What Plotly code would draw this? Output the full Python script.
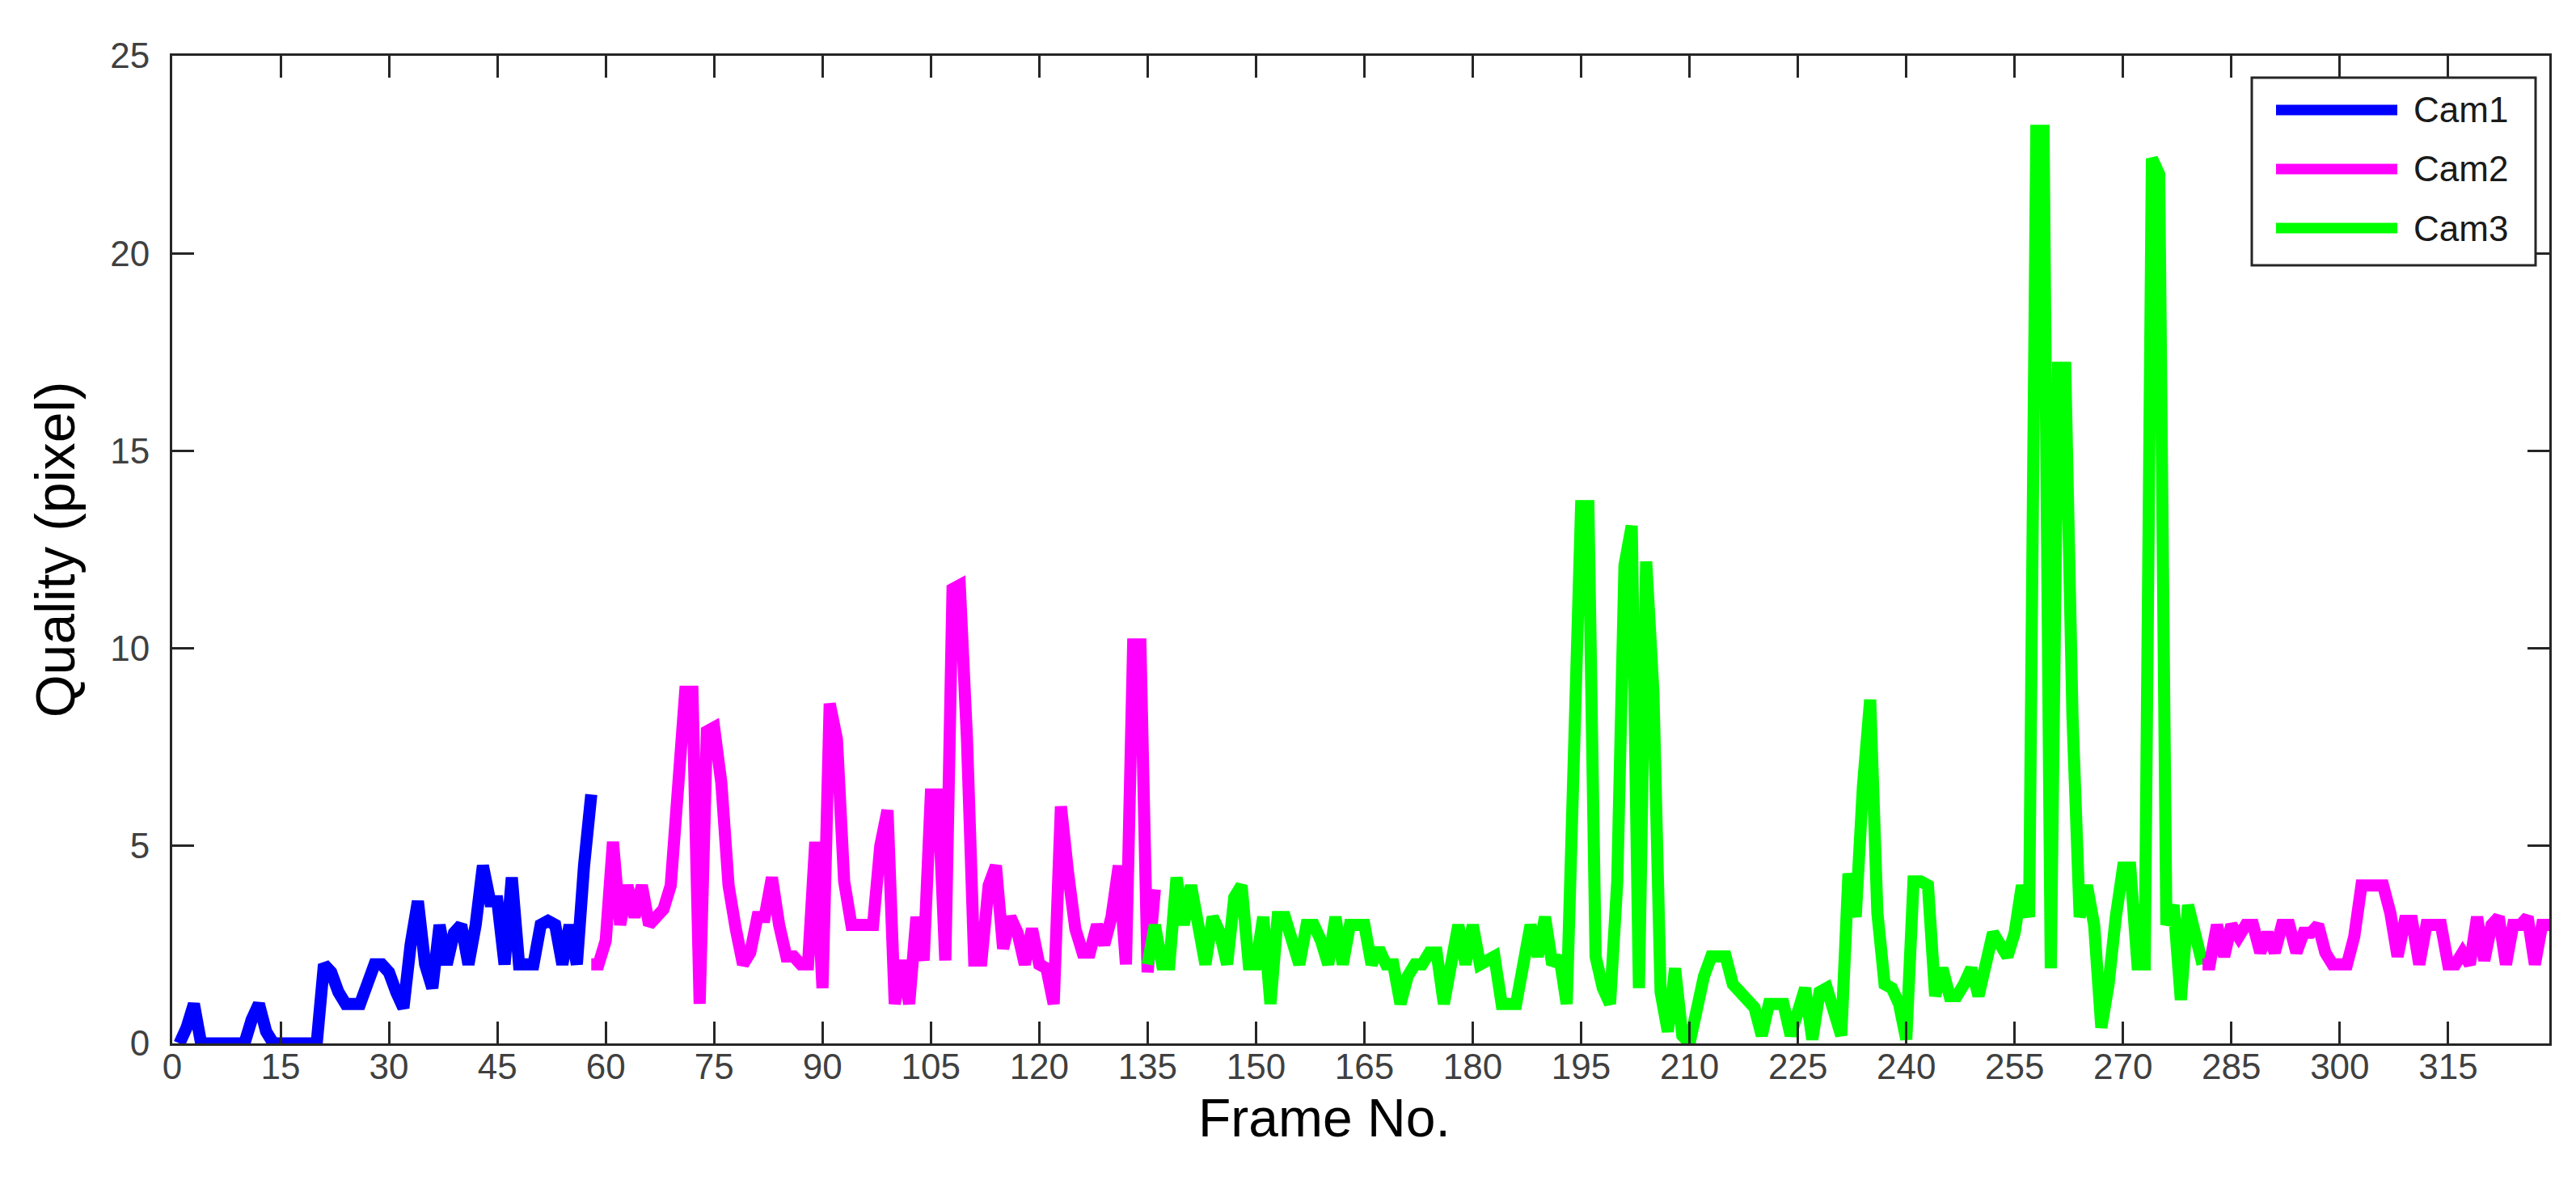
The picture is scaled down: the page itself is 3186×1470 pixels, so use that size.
import plotly.graph_objects as go

# --- data (frame number -> quality in pixels) ---
CAM1_START = 1
cam1_quality = [
    0, 0.4, 1, 0, 0, 0, 0, 0, 0, 0,
    0.6, 1, 0.3, 0, 0, 0, 0, 0, 0, 0,
    2, 1.8, 1.3, 1, 1, 1, 1.5, 2, 2, 1.8,
    1.3, 0.9, 2.5, 3.6, 2, 1.4, 3, 2, 2.8, 3,
    2, 3, 4.5, 3.6, 3.6, 2, 4.2, 2, 2, 2,
    3, 3.1, 3, 2, 3, 2, 4.5, 6.3,
]

CAM2A_START = 58
cam2a_quality = [
    2.0, 2.0, 2.6, 5.1, 3.0, 4.0, 3.2, 4.0, 3.0, 3.2,
    3.4, 4.0, 6.4, 8.9, 8.9, 1.0, 7.9, 8.0, 6.6, 4.0,
    2.9, 2.0, 2.3, 3.2, 3.2, 4.2, 3.0, 2.2, 2.2, 2.0,
    2.0, 5.1, 1.4, 8.6, 7.7, 4.1, 3.0, 3.0, 3.0, 3.0,
    5.0, 5.9, 1.0, 2.1, 1.0, 3.2, 2.1, 6.3, 6.3, 2.1,
    11.5, 11.6, 7.7, 2.1, 2.1, 4.0, 4.5, 2.4, 3.2, 2.8,
    2.0, 2.9, 2.0, 1.9, 1.0, 6.0, 4.3, 2.9, 2.3, 2.3,
    3.0, 2.5, 3.2, 4.5, 2.0, 10.1, 10.1, 1.8, 3.9,
]

CAM3_START = 135
cam3_quality = [
    2.0, 3.0, 2.0, 2.0, 4.2, 3.0, 4.0, 2.9, 2.0, 3.2,
    2.8, 2.0, 3.7, 4.0, 2.0, 2.0, 3.2, 1.0, 3.2, 3.2,
    2.5, 2.0, 3.0, 3.0, 2.6, 2.0, 3.2, 2.0, 3.0, 3.0,
    3.0, 2.0, 2.4, 2.0, 2.0, 1.0, 1.7, 2.0, 2.0, 2.3,
    2.3, 1.0, 2.0, 3.0, 2.0, 3.0, 2.0, 2.1, 2.2, 1.0,
    1.0, 1.0, 2.0, 3.0, 2.2, 3.2, 2.0, 2.2, 1.0, 6.7,
    13.6, 13.6, 2.2, 1.4, 1.0, 4.1, 12.1, 13.1, 1.4, 12.2,
    8.9, 1.3, 0.3, 1.9, 0.2, 0.0, 1.0, 1.7, 2.2, 2.2,
    2.2, 1.5, 1.3, 1.2, 0.9, 0.2, 1.0, 1.0, 1.0, 0.2,
    0.9, 1.4, 0.1, 1.3, 1.4, 0.7, 0.2, 4.3, 3.2, 6.5,
    8.7, 3.3, 1.5, 1.4, 1.0, 0.1, 4.1, 4.1, 4.0, 1.2,
    1.9, 1.2, 1.2, 1.5, 1.9, 1.2, 2.0, 2.8, 2.5, 2.2,
    2.8, 4.0, 3.2, 23.1, 23.1, 1.9, 17.1, 17.1, 8.3, 3.2,
    4.0, 3.0, 0.4, 1.5, 3.2, 4.45, 4.45, 2.0, 2.0, 22.4,
    22.0, 3.0, 3.5, 1.1, 3.5, 2.8, 2.0,
]

CAM2B_START = 281
cam2b_quality = [
    2.0, 2.0, 3.0, 2.2, 3.0, 2.7, 3.0, 3.0, 2.3, 2.8,
    2.3, 3.0, 3.0, 2.3, 2.8, 2.8, 3.0, 2.3, 2.0, 2.0,
    2.0, 2.7, 4.0, 4.0, 4.0, 4.0, 3.3, 2.2, 3.1, 3.1,
    2.0, 3.0, 3.0, 3.0, 2.0, 2.0, 2.3, 2.0, 3.2, 2.1,
    3.0, 3.2, 2.0, 3.0, 3.0, 3.2, 2.0, 3.0, 3.0,
]

x_ticks = list(range(0, 330, 15))
y_ticks = [0, 5, 10, 15, 20, 25]

COLORS = {"Cam1": "#0000ff", "Cam2": "#ff00ff", "Cam3": "#00ff00"}
AXIS_COLOR = "#262626"
FONT = "Liberation Sans, Arial, sans-serif"


def frames(start, values):
    return list(range(start, start + len(values)))


series = [
    ("Cam1", CAM1_START, cam1_quality),
    ("Cam2", CAM2A_START, cam2a_quality),
    ("Cam3", CAM3_START, cam3_quality),
    ("Cam2", CAM2B_START, cam2b_quality),
]

fig = go.Figure()
for name, start, vals in series:
    fig.add_trace(
        go.Scatter(
            x=frames(start, vals),
            y=vals,
            mode="lines",
            name=name,
            line=dict(color=COLORS[name], width=15),
            showlegend=False,
        )
    )

fig.update_layout(
    width=3186,
    height=1470,
    margin=dict(l=205, r=41, t=61, b=188),
    paper_bgcolor="white",
    plot_bgcolor="white",
    font=dict(family=FONT, color="#000000"),
    showlegend=False,
)

axis_common = dict(
    showgrid=False,
    zeroline=False,
    showline=True,
    linecolor=AXIS_COLOR,
    linewidth=3,
    mirror="ticks",
    ticks="inside",
    ticklen=27,
    tickwidth=3,
    tickcolor=AXIS_COLOR,
    tickfont=dict(family=FONT, size=44, color="#404040"),
)

fig.update_xaxes(
    range=[0, 329],
    tickmode="array",
    tickvals=x_ticks,
    ticklabelstandoff=-12,
    **axis_common,
)
fig.update_yaxes(
    range=[0, 25],
    tickmode="array",
    tickvals=y_ticks,
    ticklabelstandoff=16,
    title=dict(text="Quality (pixel)", font=dict(family=FONT, size=68, color="#000000"), standoff=22),
    **axis_common,
)

# --- pixel helpers for the hand-placed pieces ---
PLOT_L, PLOT_R, PLOT_T, PLOT_B = 205, 3145, 61, 1282


def px_x(v):
    return (v - PLOT_L) / (PLOT_R - PLOT_L)


def px_y(v):
    return (PLOT_B - v) / (PLOT_B - PLOT_T)


# x title sits a little left of centre in the source
fig.add_annotation(
    xref="paper", yref="paper", x=px_x(1630), y=px_y(1374),
    text="Frame No.", showarrow=False, xanchor="center", yanchor="middle",
    font=dict(family=FONT, size=66, color="#000000"),
)

# legend box drawn by hand so the sample lines are long, as in the source
fig.add_shape(
    type="rect", xref="paper", yref="paper",
    x0=px_x(2777), x1=px_x(3128), y0=px_y(320), y1=px_y(88),
    line=dict(color=AXIS_COLOR, width=3), fillcolor="white", layer="above",
)
for i, name in enumerate(["Cam1", "Cam2", "Cam3"]):
    row_y = px_y(128 + i * 73)
    fig.add_shape(
        type="line", xref="paper", yref="paper",
        x0=px_x(2807), x1=px_x(2957), y0=row_y, y1=row_y,
        line=dict(color=COLORS[name], width=13), layer="above",
    )
    fig.add_annotation(
        xref="paper", yref="paper", x=px_x(2975), y=row_y,
        text=name, showarrow=False, xanchor="left", yanchor="middle",
        font=dict(family=FONT, size=44, color="#1a1a1a"),
    )

fig.write_html("out.html")
